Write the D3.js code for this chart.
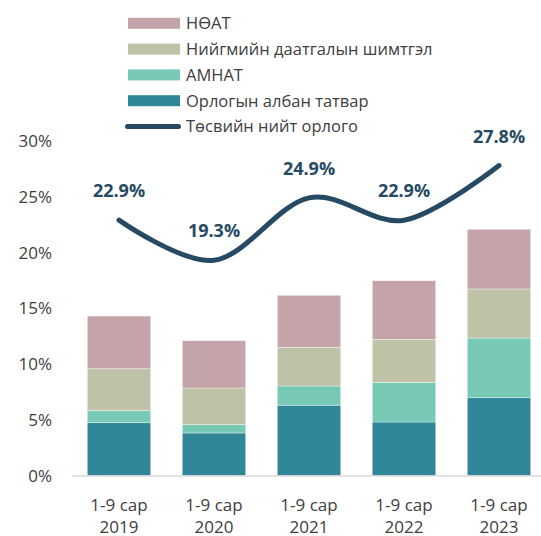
<!DOCTYPE html>
<html>
<head>
<meta charset="utf-8">
<script src="https://cdn.jsdelivr.net/npm/d3@7"></script>
<style>
  body { margin: 0; background: #fff; }
  svg text { font-family: "Segoe UI", "Open Sans", "Noto Sans", sans-serif; }
</style>
</head>
<body>
<svg id="mainsvg" width="541" height="536"></svg>
<script>
// data (% of GDP)
let periods = ["2019", "2020", "2021", "2022", "2023"];
let periodPrefix = "1-9 сар";
let incomeTax = [4.74, 3.81, 6.30, 4.80, 6.98];   // Орлогын албан татвар
let mineralRoyalty = [1.07, 0.75, 1.73, 3.56, 5.35]; // АМНАТ
let socialIns = [3.77, 3.29, 3.47, 3.85, 4.40];   // Нийгмийн даатгалын шимтгэл
let vat = [4.72, 4.24, 4.66, 5.26, 5.35];         // НӨАТ
let totalRevenue = [22.9, 19.3, 24.9, 22.9, 27.8]; // Төсвийн нийт орлого
let yTicks = [0, 5, 10, 15, 20, 25, 30];

let seriesKeys = ["oat", "amnat", "ndsh", "noat"];
let seriesNames = {
    oat: "Орлогын албан татвар",
    amnat: "АМНАТ",
    ndsh: "Нийгмийн даатгалын шимтгэл",
    noat: "НӨАТ"
};
let seriesColors = {
    oat: "#2e8697",
    amnat: "#77c9b6",
    ndsh: "#bfc2a7",
    noat: "#c4a4a8"
};
let lineName = "Төсвийн нийт орлого";
let lineColor = "#264a63";
let textColor = "#404040";

let rows = periods.map((p, i) => ({
    period: p,
    oat: incomeTax[i],
    amnat: mineralRoyalty[i],
    ndsh: socialIns[i],
    noat: vat[i],
    total: totalRevenue[i]
}));

let svg = d3.select("#mainsvg");

let x = d3.scaleBand().domain(periods).range([71.5, 546.5]).paddingInner(0.333).paddingOuter(0.1665);
let y = d3.scaleLinear().domain([0, 30]).range([475.5, 141]);

// bars
let stacked = d3.stack().keys(seriesKeys)(rows);
let barg = svg.append("g").attr("id", "bar-g");
barg.selectAll("g.layer")
    .data(stacked)
    .enter()
    .append("g")
    .attr("class", "layer")
    .attr("fill", d => seriesColors[d.key])
    .selectAll("rect")
    .data(d => d)
    .enter()
    .append("rect")
    .attr("x", d => x(d.data.period))
    .attr("width", x.bandwidth())
    .attr("y", d => y(d[1]))
    .attr("height", d => y(d[0]) - y(d[1]))
    .attr("stroke", "#ffffff")
    .attr("stroke-opacity", 0.45)
    .attr("stroke-width", 0.8);

// x axis line
svg.append("line")
    .attr("x1", 72).attr("x2", 541)
    .attr("y1", y(0) + 0.5).attr("y2", y(0) + 0.5)
    .attr("stroke", "#d9d9d9")
    .attr("stroke-width", 1.5);

// y tick labels
let axisg = svg.append("g").attr("id", "y-axis-g");
axisg.selectAll("text")
    .data(yTicks)
    .enter()
    .append("text")
    .attr("x", 52)
    .attr("y", d => y(d))
    .attr("dy", "0.36em")
    .attr("text-anchor", "end")
    .attr("font-size", 17)
    .attr("fill", textColor)
    .text(d => d + "%");

// x labels
let xg = svg.append("g").attr("id", "x-axis-g");
let xl = xg.selectAll("text")
    .data(periods)
    .enter()
    .append("text")
    .attr("text-anchor", "middle")
    .attr("font-size", 17)
    .attr("fill", textColor);
xl.append("tspan")
    .attr("x", d => x(d) + x.bandwidth() / 2)
    .attr("y", 510.5)
    .text(periodPrefix);
xl.append("tspan")
    .attr("x", d => x(d) + x.bandwidth() / 2)
    .attr("y", 532.5)
    .text(d => d);

// total revenue line
let line = d3.line()
    .x(d => x(d.period) + x.bandwidth() / 2)
    .y(d => y(d.total))
    .curve(d3.curveCardinal.tension(0));
svg.append("path")
    .datum(rows)
    .attr("d", line)
    .attr("fill", "none")
    .attr("stroke", lineColor)
    .attr("stroke-width", 5)
    .attr("stroke-linecap", "round")
    .attr("stroke-linejoin", "round");

// line labels
svg.append("g").selectAll("text")
    .data(rows)
    .enter()
    .append("text")
    .attr("x", d => x(d.period) + x.bandwidth() / 2)
    .attr("y", d => y(d.total) - 23)
    .attr("text-anchor", "middle")
    .attr("font-size", 18)
    .attr("font-weight", "bold")
    .attr("fill", lineColor)
    .text(d => d.total.toFixed(1) + "%");

// legend
let legendItems = [
    {key: "noat", type: "rect"},
    {key: "ndsh", type: "rect"},
    {key: "amnat", type: "rect"},
    {key: "oat", type: "rect"},
    {key: "total", type: "line"}
];
let legendg = svg.append("g").attr("id", "legend-g");
let li = legendg.selectAll("g")
    .data(legendItems)
    .enter()
    .append("g")
    .attr("transform", (d, i) => "translate(0," + (23.3 + i * 25.8) + ")");
li.filter(d => d.type === "rect")
    .append("rect")
    .attr("x", 128)
    .attr("y", -5.5)
    .attr("width", 52)
    .attr("height", 11)
    .attr("fill", d => seriesColors[d.key]);
li.filter(d => d.type === "line")
    .append("line")
    .attr("x1", 127.5).attr("x2", 178.5)
    .attr("y1", 0).attr("y2", 0)
    .attr("stroke", lineColor)
    .attr("stroke-width", 5)
    .attr("stroke-linecap", "round");
li.append("text")
    .attr("x", 186)
    .attr("y", 0)
    .attr("dy", "0.36em")
    .attr("font-size", 16.5)
    .attr("fill", textColor)
    .text(d => d.type === "line" ? lineName : seriesNames[d.key]);
</script>
</body>
</html>
